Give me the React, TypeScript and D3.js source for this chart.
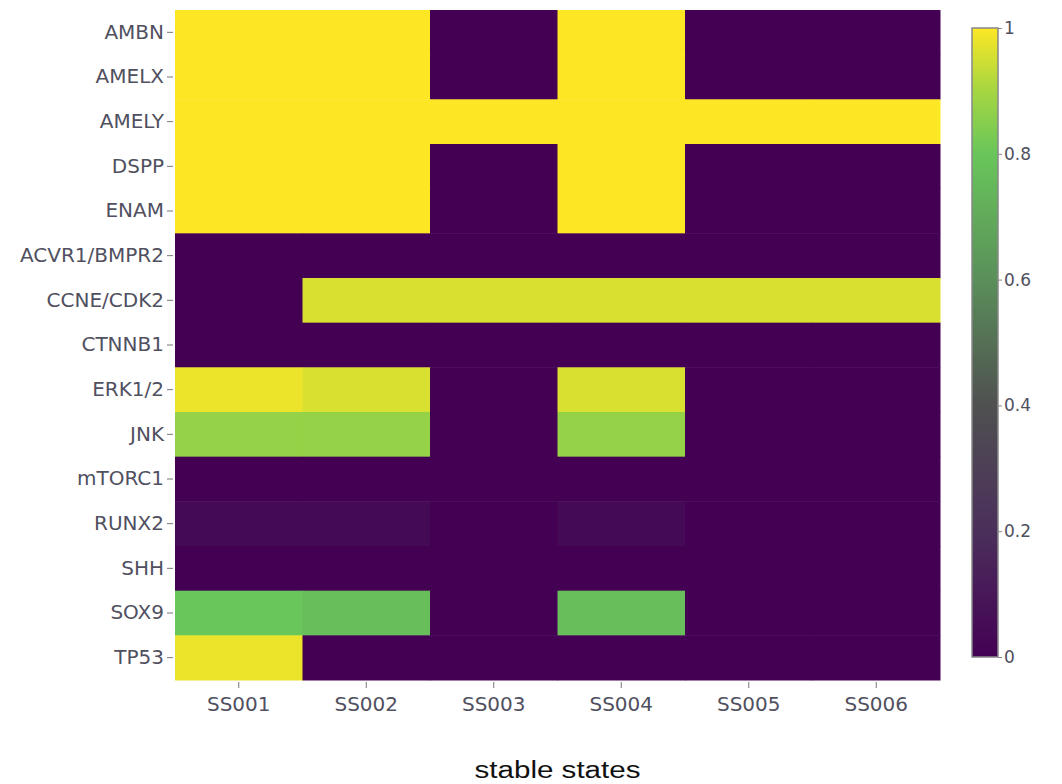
import { useEffect, useRef } from "react"
import * as d3 from "d3"

const genes = ["AMBN", "AMELX", "AMELY", "DSPP", "ENAM", "ACVR1/BMPR2", "CCNE/CDK2", "CTNNB1", "ERK1/2", "JNK", "mTORC1", "RUNX2", "SHH", "SOX9", "TP53"]
const states = ["SS001", "SS002", "SS003", "SS004", "SS005", "SS006"]

// one row per gene, one value per stable state
const AMBN = [1, 1, 0, 1, 0, 0]
const AMELX = [1, 1, 0, 1, 0, 0]
const AMELY = [1, 1, 1, 1, 1, 1]
const DSPP = [1, 1, 0, 1, 0, 0]
const ENAM = [1, 1, 0, 1, 0, 0]
const ACVR1 = [0, 0, 0, 0, 0, 0]
const CCNE = [0, 0.96, 0.96, 0.96, 0.96, 0.96]
const CTNNB1 = [0, 0, 0, 0, 0, 0]
const ERK = [0.98, 0.96, 0, 0.96, 0, 0]
const JNK = [0.875, 0.875, 0, 0.875, 0, 0]
const MTORC1 = [0, 0, 0, 0, 0, 0]
const RUNX2 = [0.04, 0.04, 0, 0.04, 0, 0]
const SHH = [0, 0, 0, 0, 0, 0]
const SOX9 = [0.8, 0.77, 0, 0.77, 0, 0]
const TP53 = [0.98, 0, 0, 0, 0, 0]
const rows = [AMBN, AMELX, AMELY, DSPP, ENAM, ACVR1, CCNE, CTNNB1, ERK, JNK, MTORC1, RUNX2, SHH, SOX9, TP53]

const colorStops = [0, 0.2, 0.4, 0.6, 0.8, 0.9, 1]
const colorRange = ["#440154", "#4b2f5b", "#4f5050", "#5a8f5a", "#69c65a", "#a5d641", "#fde725"]
const cbTicks = [0, 0.2, 0.4, 0.6, 0.8, 1]

function App() {
    const ref = useRef<SVGSVGElement>(null)

    useEffect(() => {
        const svg = d3.select(ref.current)
        svg.selectAll("*").remove()

        const left = 175, right = 940, top = 10, bottom = 680
        const font = "DejaVu Sans, Verdana, sans-serif"

        const x = d3.scaleBand().domain(states).range([left, right])
        const y = d3.scaleBand().domain(genes).range([top, bottom])
        const color = d3.scaleLinear<string>().domain(colorStops).range(colorRange).interpolate(d3.interpolateRgb)

        // Cells
        const cells = rows.flatMap((r, i) => r.map((v, j) => ({ gene: genes[i], state: states[j], v })))
        svg.append("g")
            .selectAll("rect")
            .data(cells)
            .enter()
            .append("rect")
            .attr("x", d => x(d.state)!)
            .attr("y", d => y(d.gene)!)
            .attr("width", x.bandwidth() + 0.5)
            .attr("height", y.bandwidth() + 0.5)
            .attr("fill", d => color(d.v))

        // Axes
        const yAxis = svg.append("g")
            .attr("transform", `translate(${left - 2},0)`)
            .call(d3.axisLeft(y).tickSize(6).tickPadding(3))
        const xAxis = svg.append("g")
            .attr("transform", `translate(0,${bottom + 2})`)
            .call(d3.axisBottom(x).tickSize(6).tickPadding(9))
        for (const ax of [xAxis, yAxis]) {
            ax.select(".domain").remove()
            ax.selectAll("line").attr("stroke", "#777")
            ax.selectAll("text")
                .attr("fill", "#505060")
                .style("font-family", font)
                .style("font-size", "20px")
        }

        svg.append("text")
            .attr("x", (left + right) / 2)
            .attr("y", 778)
            .attr("text-anchor", "middle")
            .attr("fill", "#111")
            .attr("textLength", 166)
            .attr("lengthAdjust", "spacingAndGlyphs")
            .style("font-family", "Liberation Sans, Arial, sans-serif")
            .style("font-size", "23px")
            .text("stable states")

        // Colorbar
        const cbX = 972, cbW = 26, cbTop = 28, cbBottom = 657
        const grad = svg.append("defs").append("linearGradient")
            .attr("id", "cb").attr("x1", 0).attr("x2", 0).attr("y1", 1).attr("y2", 0)
        colorStops.forEach((s, i) => {
            grad.append("stop").attr("offset", s).attr("stop-color", colorRange[i])
        })
        svg.append("rect")
            .attr("x", cbX).attr("y", cbTop)
            .attr("width", cbW).attr("height", cbBottom - cbTop)
            .attr("fill", "url(#cb)")
            .attr("stroke", "#888").attr("stroke-width", 1.5)

        const cbScale = d3.scaleLinear().domain([0, 1]).range([cbBottom, cbTop])
        const cbAxis = svg.append("g")
            .attr("transform", `translate(${cbX + cbW},0)`)
            .call(d3.axisRight(cbScale).tickValues(cbTicks).tickFormat(d3.format("~g")).tickSize(4).tickPadding(2))
        cbAxis.select(".domain").remove()
        cbAxis.selectAll("line").attr("stroke", "#888")
        cbAxis.selectAll("text")
            .attr("fill", "#505060")
            .style("font-family", font)
            .style("font-size", "17px")
    })

    return (
        <svg ref={ref} width="1062" height="784" style={{ position: "absolute", left: 0, top: 0, background: "#fff" }}></svg>
    )
}

export default App
